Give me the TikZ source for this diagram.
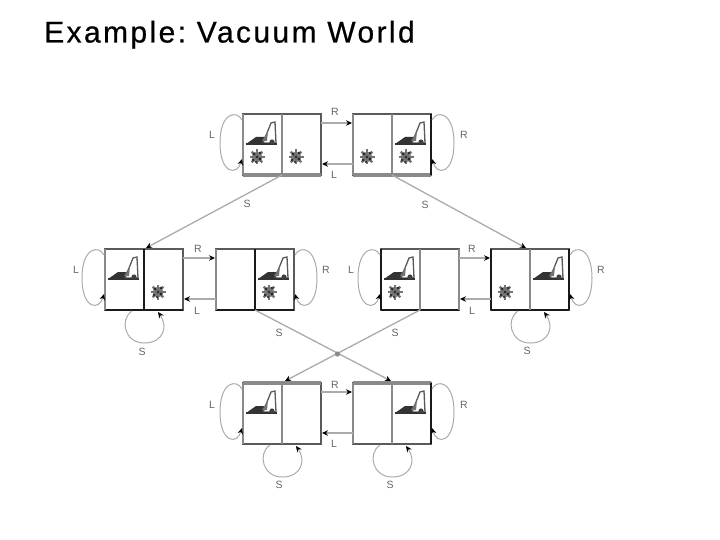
\documentclass[tikz,border=0pt]{standalone}
\usepackage{fontspec}
\setmainfont{Liberation Sans}
\newfontfamily\titlefont[LetterSpace=8,FakeBold=0.6]{Liberation Sans}
\usetikzlibrary{calc,arrows.meta,shapes.geometric}
\definecolor{edgeG}{HTML}{8A8A8A}
\definecolor{edgeD}{HTML}{5A5A5A}
\definecolor{edgeK}{HTML}{1A1A1A}
\definecolor{wire}{HTML}{ABABAB}
\definecolor{labelc}{HTML}{666666}
\tikzset{
  x=1pt,y=-1pt,
  cellbox/.style={draw=edgeD,line width=1.2pt,minimum width=39pt,minimum height=61pt,inner sep=0pt,outer sep=0pt,anchor=north west},
  tip/.style={-{Stealth[black,length=6pt,width=5.5pt]}},
  wireline/.style={wire,line width=1.3pt,tip},
  hline/.style={wire,line width=2pt,tip},
  looping/.style={wire,line width=1pt,tip},
  lab/.style={font=\fontsize{10.5}{11}\selectfont,text=labelc,inner sep=0pt},
  thintop/.style={edgeD,line width=2pt},
  thicktop/.style={edgeG,line width=4.5pt},
  thickbot/.style={edgeG,line width=4.5pt},
  blackbot/.style={edgeK,line width=2.4pt},
  blackmid/.style={edgeK,line width=1.6pt},
  graymid/.style={edgeG,line width=2.2pt},
  darkbot/.style={edgeD,line width=1.8pt},
}
\newcommand{\statepair}[6]{% name x y top bottom divider
  \node[cellbox] (#1l) at (#2,#3) {};
  \node[cellbox] (#1r) at (#2+39,#3) {};
  \draw[#4] (#1l.north west) -- (#1r.north east);
  \draw[#5] (#1l.south west) -- (#1r.south east);
  \draw[#6] (#1l.north east) -- (#1l.south east);
}
\newcommand{\vacuum}[1]{%
  \begin{scope}[shift={(#1.north west)}]
    \fill[black!80] (3,30) -- (13,23) -- (22,23) -- (20,30) -- cycle;
    \draw[black!65,line width=1.3pt] (20,29) -- (28,9) -- (32,8) -- (33,29) -- cycle;
    \draw[black!80,line width=1.2pt] (3,30) -- (34,30);
    \fill[black!75] (29,28) circle (2.6);
    \fill[black!55] (25,17) -- (19,27) -- (24,27) -- cycle;
  \end{scope}%
}
\newcommand{\dirt}[1]{%
  \begin{scope}[shift={(#1.north west)}]
    \fill[black!45] (14,43) circle (5.5);
    \foreach \a in {0,45,...,315}{\draw[black!55,line width=2.2pt] (14,43) -- ++(\a:7.5);}
    \fill[black!85] (11,40) circle (1.5) (17,45) circle (1.6) (17,39) circle (1.3) (10,46) circle (1.4) (14,43) circle (1.4) (13,48) circle (1.1);
  \end{scope}%
}
\newcommand{\leftloop}[1]{%
  \draw[looping] ($(#1.north west)+(-1,6)$) .. controls ($(#1.north west)+(-6,-4)$) and ($(#1.north west)+(-23,-2)$) .. ($(#1.north west)+(-23,29)$)
    .. controls ($(#1.north west)+(-23,60)$) and ($(#1.north west)+(-6,62)$) .. ($(#1.north west)+(-1,45)$);
}
\newcommand{\rightloop}[1]{%
  \draw[looping] ($(#1.north east)+(1,6)$) .. controls ($(#1.north east)+(6,-4)$) and ($(#1.north east)+(23,-2)$) .. ($(#1.north east)+(23,29)$)
    .. controls ($(#1.north east)+(23,60)$) and ($(#1.north east)+(6,62)$) .. ($(#1.north east)+(1,45)$);
}
\newcommand{\underloop}[1]{%
  \draw[looping] ($(#1.south east)+(-12,1)$) .. controls ($(#1.south east)+(-25,10)$) and ($(#1.south east)+(-19,33)$) .. ($(#1.south east)+(0,33)$)
    .. controls ($(#1.south east)+(20,33)$) and ($(#1.south east)+(24,16)$) .. ($(#1.south east)+(14,2)$);
}
\newcommand{\moves}[2]{%
  \draw[hline] ($(#1.north east)+(0,9)$) -- ($(#2.north west)+(-1,9)$);
  \draw[hline] ($(#2.north west)+(0,50)$) -- ($(#1.north east)+(1,50)$);
}
\begin{document}
\begin{tikzpicture}
\useasboundingbox (0,0) rectangle (720,540);
\fill[white] (0,0) rectangle (720,540);
\node[anchor=base west,inner sep=0pt,font=\titlefont\frenchspacing\fontsize{30}{32}\selectfont,text=black] (title) at (44,42.5) {Example: Vacuum World};

\statepair{a}{243}{114}{thintop}{thickbot}{graymid}
\statepair{b}{353}{114}{thintop}{thickbot}{graymid}
\statepair{c}{105}{249}{thintop}{blackbot}{blackmid}
\statepair{d}{216}{249}{thintop}{blackbot}{blackmid}
\statepair{e}{381}{249}{thintop}{blackbot}{graymid}
\statepair{f}{491}{249}{thintop}{blackbot}{graymid}
\statepair{g}{243}{383}{thicktop}{darkbot}{graymid}
\statepair{h}{353}{383}{thicktop}{darkbot}{graymid}
% individual side edges
\foreach \n in {al,bl,cl,dl,gl,hl}{\draw[edgeG,line width=2pt] (\n.north west) -- (\n.south west);}
\foreach \n in {el,fl}{\draw[edgeK,line width=1.6pt] (\n.north west) -- (\n.south west);}
\draw[edgeG,line width=2.6pt] (er.north east) -- (er.south east);
\draw[edgeK,line width=1.4pt] (br.north east) -- (br.south east);
\draw[edgeK,line width=1.4pt] (hr.north east) -- (hr.south east);
\draw[edgeK,line width=1.4pt] (fr.north east) -- (fr.south east);

\vacuum{al}\dirt{al}\dirt{ar}
\dirt{bl}\vacuum{br}\dirt{br}
\vacuum{cl}\dirt{cr}
\vacuum{dr}\dirt{dr}
\vacuum{el}\dirt{el}
\dirt{fl}\vacuum{fr}
\vacuum{gl}\vacuum{hr}

% horizontal moves
\moves{ar}{bl}\moves{cr}{dl}\moves{er}{fl}\moves{gr}{hl}

% loops
\leftloop{al}\rightloop{br}
\leftloop{cl}\rightloop{dr}
\leftloop{el}\rightloop{fr}
\leftloop{gl}\rightloop{hr}
\underloop{cl}\underloop{fl}\underloop{gl}\underloop{hl}

% suck transitions
\draw[wireline] (al.south east) -- ($(cl.north east)+(2,-1)$);
\draw[wireline] (bl.south east) -- ($(fl.north east)+(-4,-1)$);
\draw[wireline] (dl.south east) -- ($(hl.north east)+(-1,-2)$);
\draw[wireline] (el.south east) -- ($(gl.north east)+(3,-2)$);
\fill[edgeG] (337.5,354) circle (2.6);

% labels
\node[lab] (l1) at (212,135) {L};
\node[lab] (l2) at (464,135) {R};
\node[lab] (l3) at (335,112) {R};
\node[lab] (l4) at (334,175) {L};
\node[lab] (l5) at (247,204) {S};
\node[lab] (l6) at (425,205) {S};
\node[lab] (l7) at (76,270) {L};
\node[lab] (l8) at (198,249) {R};
\node[lab] (l9) at (197,311) {L};
\node[lab] (l10) at (326,270) {R};
\node[lab] (l11) at (351,270) {L};
\node[lab] (l12) at (472,249) {R};
\node[lab] (l13) at (472,311) {L};
\node[lab] (l14) at (601,270) {R};
\node[lab] (l15) at (142,352) {S};
\node[lab] (l16) at (279,333) {S};
\node[lab] (l17) at (395,333) {S};
\node[lab] (l18) at (527,351) {S};
\node[lab] (l19) at (335,385) {R};
\node[lab] (l20) at (334,444) {L};
\node[lab] (l21) at (212,405) {L};
\node[lab] (l22) at (464,405) {R};
\node[lab] (l23) at (279,485) {S};
\node[lab] (l24) at (390,485) {S};
\end{tikzpicture}
\end{document}
